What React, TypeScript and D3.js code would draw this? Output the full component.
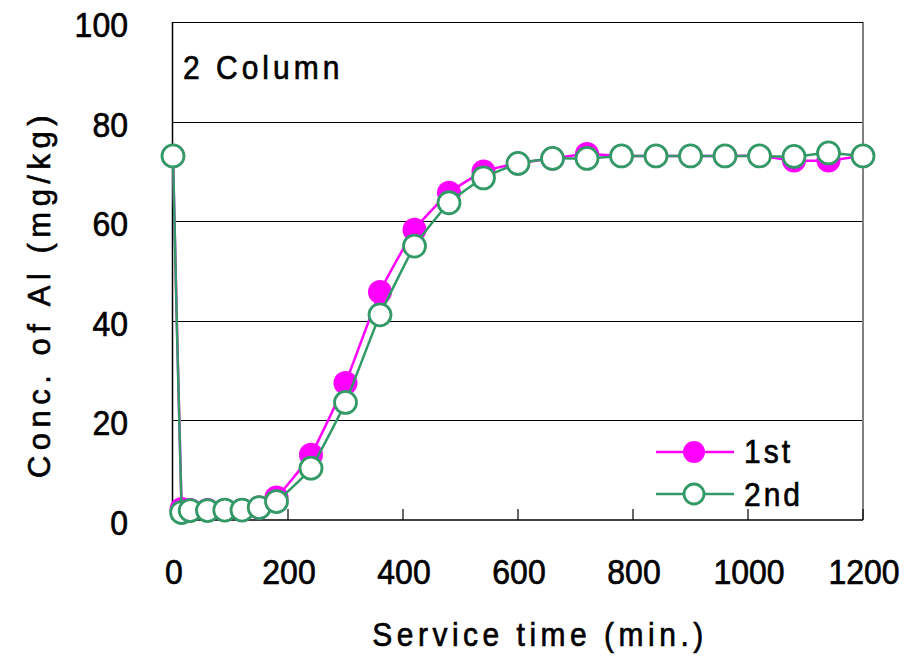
import React from "react";
import * as d3 from "d3";

const times = [0, 15, 30, 60, 90, 120, 150, 180, 240, 300, 360, 420, 480, 540, 600, 660, 720, 780, 840, 900, 960, 1020, 1080, 1140, 1200];
const first = [73.1, 2.2, 2.0, 2.0, 2.0, 2.0, 2.5, 4.5, 13.1, 27.5, 45.8, 58.3, 65.7, 70.0, 71.6, 72.6, 73.5, 73.1, 73.1, 73.1, 73.1, 73.1, 72.2, 72.2, 73.1];
const second = [73.1, 1.5, 1.9, 1.9, 2.0, 2.0, 2.5, 3.7, 10.4, 23.6, 41.2, 55.0, 63.7, 68.7, 71.6, 72.6, 72.6, 73.1, 73.1, 73.1, 73.1, 73.1, 73.0, 73.7, 73.1];
const xTicks = [0, 200, 400, 600, 800, 1000, 1200];
const yTicks = [0, 20, 40, 60, 80, 100];
const seriesNames = ["1st", "2nd"];

const W = 907, H = 656;
const left = 173, right = 863, top = 22, bottom = 520;
const FONT = "'Liberation Sans', Arial, sans-serif";
const PINK = "#ff00ff";
const GREEN = "#339966";
const SY = 1.1;

function T(props: { x: number; y: number; size: number; ls?: number; anchor?: string; rotate?: boolean; children: React.ReactNode }) {
  const { x, y, size, ls = 0, anchor = "start", rotate = false, children } = props;
  const tr = rotate ? `translate(${x},${y}) rotate(-90)` : `translate(${x},${y}) scale(1,${SY})`;
  return (
    <text transform={tr} fontSize={size} letterSpacing={ls} textAnchor={anchor} fill="#000" stroke="#000" strokeWidth={0.6}>
      {children}
    </text>
  );
}

export default function App() {
  const x = d3.scaleLinear().domain([0, 1200]).range([left, right]);
  const y = d3.scaleLinear().domain([0, 100]).range([bottom, top]);
  const line = d3
    .line<number>()
    .x((_, i) => x(times[i]))
    .y((d) => y(d))
    .curve(d3.curveCardinal.tension(0.6));

  return (
    <svg width={W} height={H} style={{ position: "absolute", left: 0, top: 0, background: "#fff" }} fontFamily={FONT}>
      <rect width={W} height={H} fill="#fff" />
      {yTicks.filter((t) => t > 0 && t < 100).map((t) => (
        <line key={t} x1={left} x2={right} y1={Math.round(y(t)) + 0.5} y2={Math.round(y(t)) + 0.5} stroke="#000" strokeWidth={1} />
      ))}
      <line x1={right} x2={right} y1={top} y2={bottom} stroke="#808080" strokeWidth={2} />
      <line x1={left} x2={right} y1={top + 0.5} y2={top + 0.5} stroke="#000" strokeWidth={1.2} />
      <line x1={left - 0.5} x2={left - 0.5} y1={top} y2={bottom} stroke="#000" strokeWidth={1.5} />
      <line x1={left} x2={right} y1={bottom} y2={bottom} stroke="#000" strokeWidth={1.5} />
      {xTicks.map((t) => (
        <line key={t} x1={x(t)} x2={x(t)} y1={bottom} y2={bottom - 11} stroke="#000" strokeWidth={1.2} />
      ))}
      {yTicks.map((t) => (
        <T key={t} x={128} y={y(t) + 15} size={32} anchor="end">{t}</T>
      ))}
      {xTicks.map((t) => (
        <T key={t} x={x(t) + 1} y={584} size={32} anchor="middle">{t}</T>
      ))}
      <T x={540} y={646} size={30} ls={4.5} anchor="middle">Service time (min.)</T>
      <T x={50} y={294} size={31} ls={5.5} anchor="middle" rotate>Conc. of Al (mg/kg)</T>
      <T x={183} y={79} size={30} ls={4}>2 Column</T>
      <path d={line(first) || ""} fill="none" stroke={PINK} strokeWidth={2.5} />
      {first.map((v, i) => (
        <circle key={"p" + i} cx={x(times[i])} cy={y(v)} r={12} fill={PINK} />
      ))}
      <path d={line(second) || ""} fill="none" stroke={GREEN} strokeWidth={2.5} />
      {second.map((v, i) => (
        <circle key={"g" + i} cx={x(times[i])} cy={y(v)} r={11} fill="#fff" stroke={GREEN} strokeWidth={2.8} />
      ))}
      <g>
        <line x1={656} x2={734} y1={452} y2={452} stroke={PINK} strokeWidth={2.5} />
        <circle cx={694} cy={452} r={11} fill={PINK} />
        <T x={744} y={463} size={30} ls={3}>{seriesNames[0]}</T>
        <line x1={656} x2={734} y1={494} y2={494} stroke={GREEN} strokeWidth={2.5} />
        <circle cx={694} cy={494} r={10} fill="#fff" stroke={GREEN} strokeWidth={2.8} />
        <T x={744} y={506} size={30} ls={3}>{seriesNames[1]}</T>
      </g>
    </svg>
  );
}
